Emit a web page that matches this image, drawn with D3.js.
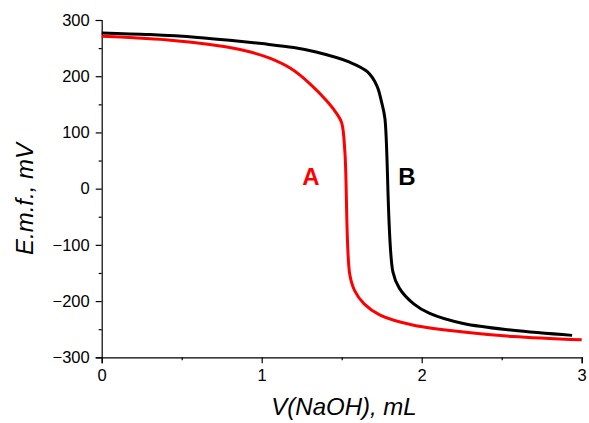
<!DOCTYPE html>
<html>
<head>
<meta charset="utf-8">
<script src="https://cdn.jsdelivr.net/npm/d3@7"></script>
<style>
  html, body { margin: 0; padding: 0; background: #fff; }
  svg { display: block; font-family: Arial, "Liberation Sans", sans-serif; }
</style>
</head>
<body>
<svg id="chart" width="589" height="423"></svg>
<script>
// Titration curves: e.m.f. versus added NaOH volume
const volA = [0, 0.2, 0.4, 0.6, 0.8, 0.93, 1.05, 1.18, 1.3, 1.41, 1.47, 1.5, 1.52, 1.55, 1.58, 1.64, 1.74, 1.95, 2.26, 2.57, 3.0];
const emfA = [271, 268.5, 265, 259, 251, 243, 232, 214, 187, 155, 133, 117, 65, -152, -181, -205, -225, -243, -255, -263, -269];

const volB = [0, 0.3, 0.6, 0.8, 1.0, 1.2, 1.34, 1.55, 1.66, 1.72, 1.75, 1.77, 1.82, 1.86, 1.95, 2.05, 2.26, 2.57, 2.94];
const emfB = [277, 274, 269, 264, 258, 251, 243, 225, 208, 183, 153, 125, -148, -177, -205, -222, -240, -252, -261];

const xTicks = [0, 1, 2, 3];
const xMinorTicks = [0.5, 1.5, 2.5];
const yTicks = [-300, -200, -100, 0, 100, 200, 300];
const yMinorTicks = [-250, -150, -50, 50, 150, 250];

const seriesNames = ["A", "B"];
const seriesColors = ["#ff0000", "#000000"];

const svg = d3.select("#chart");
const margin = { left: 101.7, top: 20, right: 7.3, bottom: 65.7 };
const W = 589, H = 423;

const x = d3.scaleLinear().domain([0, 3]).range([margin.left, W - margin.right]);
const y = d3.scaleLinear().domain([-300, 300]).range([H - margin.bottom, margin.top]);

// X axis
const gx = svg.append("g").attr("transform", `translate(0,${y(-300)})`);
gx.call(d3.axisBottom(x).tickValues(xTicks).tickSize(6).tickPadding(6).tickFormat(d3.format("d")));
gx.append("g").call(d3.axisBottom(x).tickValues(xMinorTicks).tickSize(3).tickFormat(""))
  .select(".domain").remove();

// Y axis
const gy = svg.append("g").attr("transform", `translate(${x(0)},0)`);
gy.call(d3.axisLeft(y).tickValues(yTicks).tickSize(6).tickPadding(6).tickFormat(d3.format("d")));
gy.append("g").call(d3.axisLeft(y).tickValues(yMinorTicks).tickSize(3).tickFormat(""))
  .select(".domain").remove();

svg.selectAll(".domain").attr("stroke", "#000").attr("stroke-width", 1.2);
svg.selectAll(".tick line").attr("stroke", "#000").attr("stroke-width", 1.2);
svg.selectAll(".tick text").attr("fill", "#000").style("font-size", "16.5px")
  .style("font-family", "Arial, 'Liberation Sans', sans-serif");
gx.selectAll(".tick text").attr("dy", "0.71em");

// Curves
const line = d3.line().x(d => x(d[0])).y(d => y(d[1])).curve(d3.curveCatmullRom.alpha(0.5));
const series = [
  d3.zip(volA, emfA),
  d3.zip(volB, emfB)
];
svg.selectAll("path.curve").data(series).join("path")
  .attr("class", "curve")
  .attr("fill", "none")
  .attr("stroke", (d, i) => seriesColors[i])
  .attr("stroke-width", 3)
  .attr("stroke-linejoin", "round")
  .attr("d", line);

// Curve labels
const labelPos = [[1.308, 6], [1.908, 6]];
svg.selectAll("text.series").data(seriesNames).join("text")
  .attr("class", "series")
  .attr("x", (d, i) => x(labelPos[i][0]))
  .attr("y", (d, i) => y(labelPos[i][1]))
  .attr("text-anchor", "middle")
  .attr("fill", (d, i) => seriesColors[i])
  .style("font-size", "24px")
  .style("font-weight", "bold")
  .text(d => d);

// Axis titles
svg.append("text")
  .attr("x", 344).attr("y", 415)
  .attr("text-anchor", "middle")
  .style("font-size", "24px").style("font-style", "italic")
  .text("V(NaOH), mL");

svg.append("text")
  .attr("transform", "translate(33,199) rotate(-90)")
  .attr("text-anchor", "middle")
  .style("font-size", "24px").style("font-style", "italic")
  .text("E.m.f., mV");
</script>
</body>
</html>
